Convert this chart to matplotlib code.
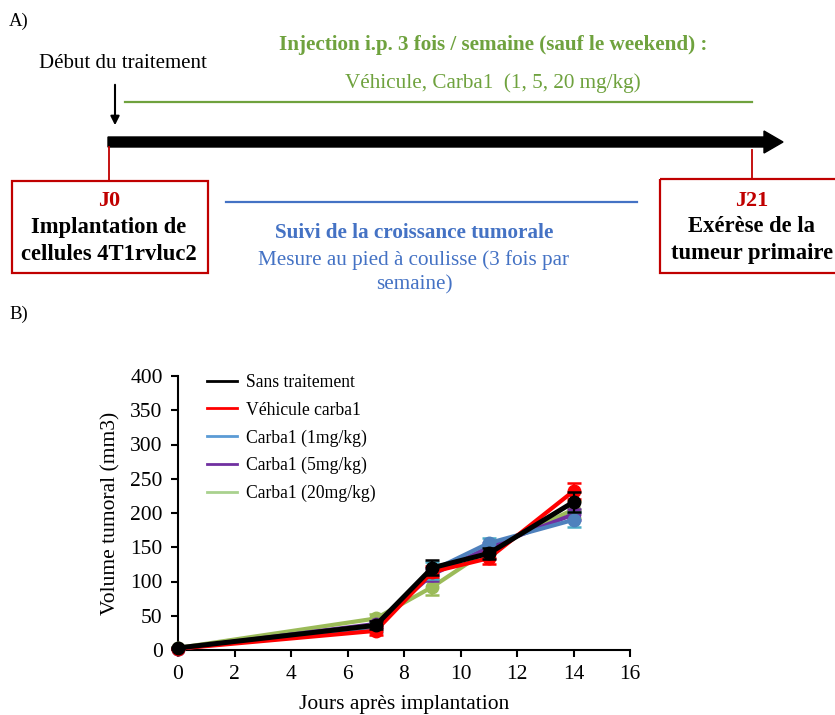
import matplotlib
matplotlib.use("Agg")
import matplotlib.pyplot as plt
from matplotlib.lines import Line2D
from matplotlib.patches import Rectangle, Polygon

plt.rcParams['font.family'] = ['Liberation Serif', 'DejaVu Serif']

# ---------------- data ----------------
days = [0, 7, 9, 11, 14]
series_names = ["Sans traitement", "Véhicule carba1", "Carba1 (1mg/kg)",
                "Carba1 (5mg/kg)", "Carba1 (20mg/kg)"]
sans_traitement = [3, 36, 120, 141, 216]
vehicule = [2, 28, 114, 134, 232]
carba1_1 = [2, 33, 116, 156, 190]
carba1_5 = [2, 38, 110, 150, 198]
carba1_20 = [3, 46, 92, 147, 205]
err_sans = [1, 6, 11, 8, 14]
err_veh = [1, 6, 8, 9, 12]
err_1 = [1, 6, 12, 7, 11]
err_5 = [1, 5, 9, 6, 8]
err_20 = [1, 6, 11, 7, 12]
xticks = [0, 2, 4, 6, 8, 10, 12, 14, 16]
yticks = [0, 50, 100, 150, 200, 250, 300, 350, 400]

colors = ["#000000", "#FF0000", "#4F81BD", "#7030A0", "#9BBB59"]
err_colors = ["#000000", "#FF0000", "#4BACC6", "#7030A0", "#9BBB59"]
legend_colors = ["#000000", "#FF0000", "#5B9BD5", "#7030A0", "#A9D18E"]

W, H = 835, 715
fig = plt.figure(figsize=(W / 100, H / 100), dpi=100)

# ---------------- panel A (schematic, pixel coordinates) ----------------
ax0 = fig.add_axes([0, 0, 1, 1])
ax0.set_xlim(0, W)
ax0.set_ylim(H, 0)
ax0.axis('off')

green = "#6FA23E"
blue = "#4472C4"
dred = "#C00000"

ax0.text(9, 21, "A)", fontsize=13.5, ha='left', va='center')
ax0.text(9, 314, "B)", fontsize=13.5, ha='left', va='center')

ax0.text(123, 64, "Début du traitement", fontsize=15, ha='center', va='center')
ax0.annotate("", xy=(115, 128), xytext=(115, 82),
             arrowprops=dict(arrowstyle='-|>', color='black', lw=1.5,
                             mutation_scale=13))

ax0.text(493, 45, "Injection i.p. 3 fois / semaine (sauf le weekend) :",
         fontsize=15.2, fontweight='bold', color=green, ha='center', va='center')
ax0.text(493, 83, "Véhicule, Carba1  (1, 5, 20 mg/kg)",
         fontsize=15.2, color=green, ha='center', va='center')
ax0.plot([125, 752], [102, 102], color=green, lw=1.6)

# thick black timeline arrow
ax0.add_patch(Polygon([[108, 137], [764, 137], [764, 131], [783, 142],
                       [764, 153], [764, 147], [108, 147]],
                      closed=True, color='black'))

# red connectors
ax0.plot([109, 109], [147, 180], color=dred, lw=1.3)
ax0.plot([752, 752], [150, 178], color=dred, lw=1.3)

# boxes
ax0.add_patch(Rectangle((12, 181), 196, 92, fill=False, edgecolor=dred, lw=1.6))
ax0.add_patch(Rectangle((660, 179), 180, 94, fill=False, edgecolor=dred, lw=1.6))

ax0.text(109, 201, "J0", fontsize=16, fontweight='bold', color=dred, ha='center', va='center')
ax0.text(109, 228, "Implantation de", fontsize=16.3, fontweight='bold', ha='center', va='center')
ax0.text(109, 254, "cellules 4T1rvluc2", fontsize=16.3, fontweight='bold', ha='center', va='center')
ax0.text(752, 201, "J21", fontsize=16, fontweight='bold', color=dred, ha='center', va='center')
ax0.text(752, 227, "Exérèse de la", fontsize=16.3, fontweight='bold', ha='center', va='center')
ax0.text(752, 254, "tumeur primaire", fontsize=16.3, fontweight='bold', ha='center', va='center')

ax0.plot([226, 637], [202, 202], color=blue, lw=1.6)
ax0.text(414, 233, "Suivi de la croissance tumorale", fontsize=15.2, fontweight='bold',
         color=blue, ha='center', va='center')
ax0.text(414, 260, "Mesure au pied à coulisse (3 fois par", fontsize=15.2,
         color=blue, ha='center', va='center')
ax0.text(414, 285, "semaine)", fontsize=15.2, color=blue, ha='center', va='center')

# ---------------- panel B (chart) ----------------
ax = fig.add_axes([178 / W, 1 - 650 / H, (630 - 178) / W, (650 - 376) / H])
ax.set_xlim(0, 16)
ax.set_ylim(0, 400)

vals = [sans_traitement, vehicule, carba1_1, carba1_5, carba1_20]
errs = [err_sans, err_veh, err_1, err_5, err_20]
zorders = [10, 8, 7, 6, 5]
lws = [3.6, 3.0, 3.0, 3.0, 3.0]
for v, e, c, ec, z, lw in zip(vals, errs, colors, err_colors, zorders, lws):
    ax.errorbar(days, v, yerr=e, color=c, ecolor=ec, lw=lw, elinewidth=1.6,
                capsize=5, capthick=1.8, marker='o', markersize=9,
                zorder=z, clip_on=False)

ax.spines['top'].set_visible(False)
ax.spines['right'].set_visible(False)
ax.spines['left'].set_linewidth(1.5)
ax.spines['bottom'].set_linewidth(1.5)
ax.set_xticks(xticks)
ax.set_yticks(yticks)
ax.tick_params(direction='out', length=5, width=1.5, labelsize=15.5, pad=6)
ax.set_xlabel("Jours après implantation", fontsize=15.5, labelpad=8)
ax.set_ylabel("Volume tumoral (mm3)", fontsize=15.5, labelpad=7)

handles = [Line2D([0], [0], color=c, lw=2) for c in legend_colors]
ax.legend(handles, series_names, loc='upper left', bbox_to_anchor=(0.028, 1.065),
          frameon=False, fontsize=12.7, handlelength=1.75, labelspacing=0.6,
          handletextpad=0.5)

fig.savefig("out.png", dpi=100)
